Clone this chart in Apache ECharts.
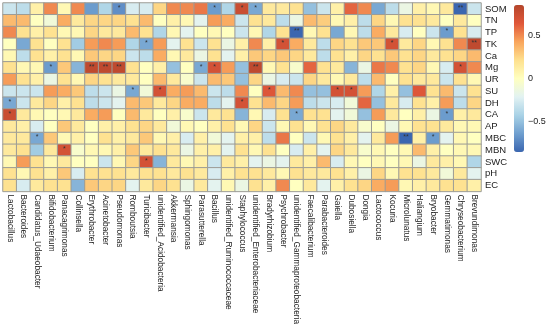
<!DOCTYPE html>
<html><head><meta charset="utf-8">
<script src="https://cdn.jsdelivr.net/npm/echarts@6/dist/echarts.min.js"></script>
<style>html,body{margin:0;padding:0;background:#fff}#c{width:550px;height:327px}</style>
</head><body><div id="c"></div>
<script>
const genera = ['Lactobacillus','Bacteroides','Candidatus_Udaeobacter','Bifidobacterium','Panacagrimonas','Collinsella','Erythrobacter','Acinetobacter','Pseudomonas','Romboutsia','Turicibacter','unidentified_Acidobacteria','Akkermansia','Sphingomonas','Parasutterella','Bacillus','unidentified_Ruminococcaceae','Staphylococcus','unidentified_Enterobacteriaceae','Bradyrhizobium','Psychrobacter','unidentified_Gammaproteobacteria','Faecalibacterium','Parabacteroides','Gaiella','Dubosiella','Dongia','Lactococcus','Kocuria','Microlunatus','Haliangium','Bryobacter','Gemmatimonas','Chryseobacterium','Brevundimonas'];
const factors = ['SOM','TN','TP','TK','Ca','Mg','UR','SU','DH','CA','AP','MBC','MBN','SWC','pH','EC'];
const corr = [
 [-0.3,-0.35,0.1,0.5,0.05,0.5,-0.65,-0.4,-0.7,-0.25,-0.25,0.25,0.5,0.5,0.55,-0.65,-0.4,0.75,-0.6,0.15,0.15,0.2,-0.5,-0.3,0.1,0.6,0.5,-0.6,-0.35,-0.15,0.1,0.05,0.15,-0.85,-0.3],
 [0.35,0.35,0.0,-0.1,0.4,0.15,0.25,0.25,0.25,0.2,0.35,0.0,0.1,0.05,-0.2,0.45,0.4,-0.3,0.2,0.15,-0.35,-0.15,0.35,0.28,0.05,0.1,-0.35,0.25,0.05,0.2,0.2,0.15,0.0,0.15,0.0],
 [0.5,0.2,0.1,0.2,0.05,0.05,0.25,0.15,0.15,0.35,0.2,-0.4,0.05,-0.2,0.0,0.05,0.0,-0.3,0.05,-0.4,0.2,-0.85,0.05,0.2,-0.6,0.05,-0.35,0.4,0.15,-0.25,0.0,-0.3,-0.65,0.2,-0.25],
 [0.0,-0.6,0.2,0.0,0.2,-0.45,0.45,0.5,0.45,-0.4,-0.6,0.45,-0.2,0.2,-0.3,0.2,-0.15,0.1,0.5,0.1,0.7,0.4,0.15,-0.35,0.25,0.2,0.3,0.3,0.7,0.15,0.25,0.05,0.2,0.5,0.8],
 [0.05,-0.35,0.2,0.1,0.2,0.05,0.3,0.25,0.25,-0.3,-0.35,0.4,0.05,0.15,-0.15,0.2,-0.2,0.1,0.3,0.25,0.3,0.25,0.15,-0.35,0.2,0.1,0.25,0.2,0.3,0.2,0.25,0.15,0.2,0.25,0.35],
 [0.2,0.05,0.05,-0.65,0.3,-0.55,0.8,0.8,0.8,0.2,0.0,0.1,-0.5,0.0,-0.6,0.7,0.45,-0.5,0.8,0.05,0.2,-0.05,0.6,0.2,0.15,-0.55,-0.15,0.55,0.5,0.2,0.25,0.05,-0.25,0.7,0.5],
 [0.45,0.2,0.1,-0.15,0.2,0.05,0.25,0.2,0.15,0.15,0.0,0.35,0.15,-0.05,-0.3,0.35,0.3,-0.5,0.25,-0.15,-0.25,-0.3,0.25,0.15,0.05,0.15,-0.35,0.35,0.0,0.2,0.15,0.15,-0.3,0.2,0.05],
 [-0.3,-0.3,-0.3,0.45,0.4,0.3,-0.35,-0.3,-0.15,-0.6,-0.1,0.7,0.4,0.45,0.35,-0.3,-0.35,0.5,0.0,0.65,0.35,0.5,-0.5,-0.5,0.7,0.7,0.45,-0.4,0.1,-0.5,0.65,0.2,0.35,-0.3,0.2],
 [-0.6,-0.3,0.15,0.25,0.1,0.2,-0.35,-0.3,-0.2,0.35,0.3,0.15,0.25,0.4,0.4,-0.35,-0.2,0.7,0.2,0.35,0.25,0.45,-0.35,-0.3,-0.25,-0.1,0.6,-0.5,0.15,-0.25,0.2,0.1,0.45,-0.35,0.25],
 [0.75,0.15,0.05,0.0,0.05,0.15,0.4,0.45,0.0,0.35,0.15,0.0,0.1,-0.05,-0.3,0.15,0.2,-0.55,0.05,-0.25,0.2,-0.6,0.2,0.2,-0.2,-0.1,-0.5,0.45,0.15,0.0,0.1,-0.15,-0.65,0.1,0.15],
 [0.15,0.1,-0.25,0.0,0.3,0.15,0.0,0.1,0.1,0.2,0.25,0.15,-0.1,0.05,0.0,0.1,0.2,0.05,0.25,-0.3,0.05,0.2,0.05,0.2,0.25,0.15,-0.05,0.0,-0.15,0.05,0.2,0.2,0.15,0.05,0.05],
 [0.15,0.15,-0.6,0.3,0.05,0.1,0.0,0.2,0.1,0.15,0.3,0.05,0.1,-0.25,0.1,-0.1,-0.2,0.1,0.1,-0.35,0.55,0.0,-0.3,0.05,0.2,0.1,-0.2,0.15,0.45,-0.85,0.1,-0.65,-0.2,0.05,0.0],
 [0.15,0.2,-0.45,0.15,0.7,-0.05,0.05,0.05,0.1,0.3,0.15,0.2,0.15,-0.15,0.1,0.1,-0.2,0.2,0.05,0.2,0.0,-0.25,0.1,-0.2,0.25,0.15,-0.05,0.05,0.0,0.05,0.35,0.1,0.0,0.05,0.05],
 [0.05,0.45,0.2,0.05,0.15,0.0,0.0,-0.3,0.05,0.25,0.7,-0.55,0.15,0.05,0.1,-0.3,0.15,0.1,-0.2,-0.15,-0.2,0.15,0.1,0.35,-0.25,0.05,0.0,0.05,0.0,0.05,-0.15,0.15,0.1,0.05,-0.4],
 [0.2,0.05,0.2,0.1,0.3,-0.25,0.2,0.2,0.2,0.15,0.2,0.2,0.15,0.2,0.15,-0.25,0.1,0.2,0.2,0.15,0.05,0.2,0.15,0.15,0.2,0.1,-0.15,0.25,0.05,0.2,0.2,0.15,-0.1,0.15,-0.2],
 [0.2,-0.25,0.15,0.2,0.2,-0.55,0.3,0.25,0.25,-0.2,0.15,0.25,0.2,-0.15,0.15,-0.2,0.05,-0.15,0.2,0.1,0.5,0.0,0.15,-0.2,0.1,0.2,0.25,0.4,0.45,0.05,0.1,0.15,0.2,0.2,0.1]
];
// [genus index, factor index, mark]
const stars = [
 [8,0,'*'],[15,0,'*'],[17,0,'*'],[18,0,'*'],[33,0,'**'],
 [21,2,'**'],[32,2,'*'],
 [10,3,'*'],[20,3,'*'],[28,3,'*'],[34,3,'**'],
 [3,5,'*'],[6,5,'**'],[7,5,'**'],[8,5,'**'],[14,5,'*'],[15,5,'*'],[18,5,'**'],[33,5,'*'],
 [9,7,'*'],[11,7,'*'],[19,7,'*'],[24,7,'*'],[25,7,'*'],
 [0,8,'*'],[17,8,'*'],
 [0,9,'*'],[21,9,'*'],[32,9,'*'],
 [2,11,'*'],[29,11,'**'],[31,11,'*'],
 [4,12,'*'],
 [10,13,'*']
];
const colorTicks = [-0.5, 0, 0.5];
const vMin = -0.85, vMax = 0.85;

const markOf = {};
stars.forEach(s => { markOf[s[0] + '_' + s[1]] = s[2]; });
const data = [];
corr.forEach((row, r) => row.forEach((v, c) => data.push([c, r, v, markOf[c + '_' + r] || ''])));

const font = 'Arial, "Liberation Sans", sans-serif';
const chart = echarts.init(document.getElementById('c'), null, {renderer: 'canvas'});
chart.setOption({
  backgroundColor: '#fff',
  animation: false,
  grid: [
    {left: 3, top: 3, width: 478, height: 192},
    {left: 514, top: 5, width: 10, height: 147, show: false}
  ],
  xAxis: [
    {type: 'category', data: genera, gridIndex: 0, position: 'bottom',
     axisLine: {show: false}, axisTick: {show: false}, splitLine: {show: false},
     axisLabel: {rotate: -90, interval: 0, margin: 3, fontSize: 8.3, color: '#222', fontFamily: font}},
    {type: 'category', data: [''], gridIndex: 1, show: false}
  ],
  yAxis: [
    {type: 'category', data: factors, gridIndex: 0, inverse: true, position: 'right',
     axisLine: {show: false}, axisTick: {show: false}, splitLine: {show: false},
     axisLabel: {interval: 0, margin: 4, fontSize: 9.5, color: '#222', fontFamily: font}},
    {type: 'value', gridIndex: 1, min: vMin, max: vMax, position: 'right',
     axisLine: {show: false}, axisTick: {show: false}, splitLine: {show: false},
     axisLabel: {customValues: colorTicks, margin: 4, fontSize: 9, color: '#222', fontFamily: font,
       formatter: v => v < 0 ? '\u2212' + Math.abs(v) : String(v)}}
  ],
  visualMap: {
    type: 'continuous', min: vMin, max: vMax, seriesIndex: 0, dimension: 2,
    left: 514, top: 5, itemWidth: 10, itemHeight: 147, padding: 0,
    text: ['', ''], calculable: false, hoverLink: false,
    inRange: {color: ['#3b66b0','#6f9fcf','#a9d2e6','#e2f2f2','#ffffc0','#fee08e','#f9a55c','#e0573a','#b5462b']}
  },
  series: [{
    type: 'heatmap', xAxisIndex: 0, yAxisIndex: 0, data: data,
    encode: {x: 0, y: 1, value: 2},
    itemStyle: {borderColor: '#9c9c96', borderWidth: 1},
    label: {show: true, formatter: p => p.data[3], fontSize: 7, color: '#333', offset: [0, -1]},
    emphasis: {disabled: true}
  }]
});
</script>
</body></html>
